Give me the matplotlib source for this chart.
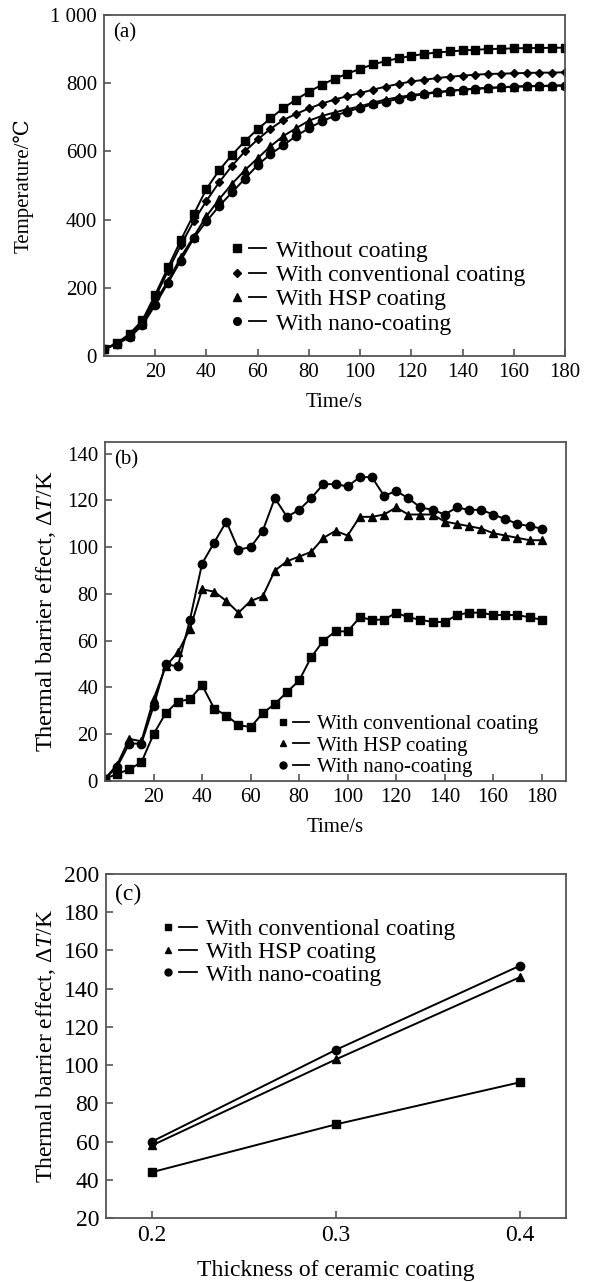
import matplotlib
matplotlib.use('Agg')
import matplotlib.pyplot as plt
from matplotlib.lines import Line2D
from matplotlib.legend_handler import HandlerTuple

plt.rcParams['font.family'] = ['Liberation Serif', 'DejaVu Serif']
plt.rcParams['mathtext.fontset'] = 'custom'
plt.rcParams['mathtext.rm'] = 'Liberation Serif'
plt.rcParams['mathtext.it'] = 'Liberation Serif:italic'

# --- (a) temperature vs time ---
time_a = list(range(0, 185, 5))
temp_none = [20, 38, 65, 105, 180, 260, 340, 415, 490, 545, 590, 630, 665, 697, 727, 752, 775, 795, 813,
             828, 842, 855, 865, 873, 880, 886, 890, 893, 896, 898, 900, 901, 902, 903, 903, 904, 904]
temp_conv = [20, 37, 62, 100, 172, 250, 325, 395, 455, 510, 558, 600, 635, 666, 692, 710, 726, 740, 752,
             762, 771, 781, 790, 798, 805, 810, 815, 819, 822, 825, 827, 828, 829, 830, 831, 831, 832]
temp_hsp = [20, 36, 58, 95, 160, 220, 290, 350, 410, 460, 505, 545, 580, 615, 645, 668, 690, 704, 714,
            724, 732, 743, 752, 759, 765, 770, 774, 778, 781, 784, 786, 788, 790, 791, 792, 793, 794]
temp_nano = [20, 35, 55, 90, 150, 215, 280, 345, 395, 440, 480, 520, 560, 592, 618, 645, 668, 688, 704,
             717, 728, 738, 746, 754, 762, 768, 773, 777, 781, 784, 786, 788, 790, 791, 792, 792, 793]

# --- (b) thermal barrier effect vs time ---
time_b = list(range(0, 185, 5))
dt_conv = [1, 3, 5, 8, 20, 29, 34, 35, 41, 31, 28, 24, 23, 29, 33, 38, 43, 53, 60,
           64, 64, 70, 69, 69, 72, 70, 69, 68, 68, 71, 72, 72, 71, 71, 71, 70, 69]
dt_hsp = [1, 7, 18, 17, 35, 49, 55, 65, 82, 81, 77, 72, 77, 79, 90, 94, 96, 98, 104,
          107, 105, 113, 113, 114, 117, 114, 114, 114, 111, 110, 109, 108, 106, 105, 104, 103, 103]
dt_nano = [1, 6, 16, 16, 32, 50, 49, 69, 93, 102, 111, 99, 100, 107, 121, 113, 116, 121, 127,
           127, 126, 130, 130, 122, 124, 121, 117, 116, 114, 117, 116, 116, 114, 112, 110, 109, 108]

# --- (c) thermal barrier effect vs thickness ---
thickness = [0.2, 0.3, 0.4]
thk_conv = [44, 69, 91]
thk_hsp = [58, 103, 146]
thk_nano = [60, 108, 152]

lbl_none = 'Without coating'
lbl_conv = 'With conventional coating'
lbl_hsp = 'With HSP coating'
lbl_nano = 'With nano-coating'
ylabel_dt = r'Thermal barrier effect, $\Delta T$/K'

SPINE = '#555555'


def style_axes(ax, fs):
    for s in ax.spines.values():
        s.set_color(SPINE)
        s.set_linewidth(1.3)
    ax.tick_params(direction='in', length=5, width=1.2, color=SPINE,
                   labelsize=fs, top=False, right=False, pad=5)


def legend_with_tuples(ax, entries, fs, anchor, spacing):
    # marker on the left, short line on the right, like "■—"
    handles, labels = [], []
    for marker, ms, lab in entries:
        m = Line2D([], [], marker=marker, ms=ms, color='black', ls='none')
        ln = Line2D([], [], color='black', lw=1.3)
        handles.append((m, ln))
        labels.append(lab)
    ax.legend(handles, labels, handler_map={tuple: HandlerTuple(ndivide=None, pad=0.1)},
              loc='upper left', bbox_to_anchor=anchor, frameon=False, fontsize=fs,
              handlelength=1.6, handletextpad=0.4, labelspacing=spacing, borderpad=0,
              borderaxespad=0)


fig = plt.figure(figsize=(5.92, 12.82), dpi=100)

# panel (a)
ax = fig.add_axes([0.1757, 0.7223, 0.7787, 0.266])
ax.plot(time_a, temp_none, '-s', color='black', lw=1.4, ms=5.5)
ax.plot(time_a, temp_conv, '-D', color='black', lw=1.4, ms=3.8)
ax.plot(time_a, temp_hsp, '-^', color='black', lw=1.4, ms=6)
ax.plot(time_a, temp_nano, '-o', color='black', lw=1.4, ms=6)
ax.set_xlim(0, 180)
ax.set_ylim(0, 1000)
ax.set_xticks(range(20, 181, 20))
ax.set_yticks(range(0, 1001, 200))
ax.set_yticklabels(['0', '200', '400', '600', '800', '1 000'])
style_axes(ax, 15)
ax.set_xlabel('Time/s', fontsize=15, labelpad=8)
ax.set_ylabel('Temperature/℃', fontsize=15, labelpad=12)
ax.text(0.02, 0.975, '(a)', transform=ax.transAxes, fontsize=15, va='top', ha='left')
legend_with_tuples(ax, [('s', 5.5, lbl_none), ('D', 4, lbl_conv), ('^', 5.5, lbl_hsp), ('o', 5.5, lbl_nano)],
                   17, (0.27, 0.34), 0.12)

# panel (b)
ax = fig.add_axes([0.1774, 0.3908, 0.7787, 0.2644])
ax.plot(time_b, dt_conv, '-s', color='black', lw=1.4, ms=5.5)
ax.plot(time_b, dt_hsp, '-^', color='black', lw=1.4, ms=6)
ax.plot(time_b, dt_nano, '-o', color='black', lw=1.4, ms=6)
ax.set_xlim(0, 190)
ax.set_ylim(0, 145)
ax.set_xticks(range(20, 181, 20))
ax.set_yticks(range(0, 141, 20))
style_axes(ax, 15)
ax.set_xlabel('Time/s', fontsize=15, labelpad=8)
ax.set_ylabel(ylabel_dt, fontsize=17.5, labelpad=6)
ax.text(0.02, 0.975, '(b)', transform=ax.transAxes, fontsize=15, va='top', ha='left')
legend_with_tuples(ax, [('s', 5, lbl_conv), ('^', 5, lbl_hsp), ('o', 5, lbl_nano)],
                   15, (0.37, 0.195), 0.08)

# panel (c)
ax = fig.add_axes([0.179, 0.0499, 0.777, 0.2684])
ax.plot(thickness, thk_conv, '-s', color='black', lw=1.4, ms=6)
ax.plot(thickness, thk_hsp, '-^', color='black', lw=1.4, ms=6)
ax.plot(thickness, thk_nano, '-o', color='black', lw=1.4, ms=6)
ax.set_xlim(0.175, 0.425)
ax.set_ylim(20, 200)
ax.set_xticks(thickness)
ax.set_xticklabels(['0.2', '0.3', '0.4'])
ax.set_yticks(range(20, 201, 20))
style_axes(ax, 17)
ax.set_xlabel('Thickness of ceramic coating', fontsize=17, labelpad=10)
ax.set_ylabel(ylabel_dt, fontsize=17, labelpad=4)
ax.text(0.02, 0.97, '(c)', transform=ax.transAxes, fontsize=17, va='top', ha='left')
legend_with_tuples(ax, [('s', 5, lbl_conv), ('^', 5, lbl_hsp), ('o', 5, lbl_nano)],
                   17, (0.115, 0.87), 0.05)

fig.savefig('out.png', dpi=100)
